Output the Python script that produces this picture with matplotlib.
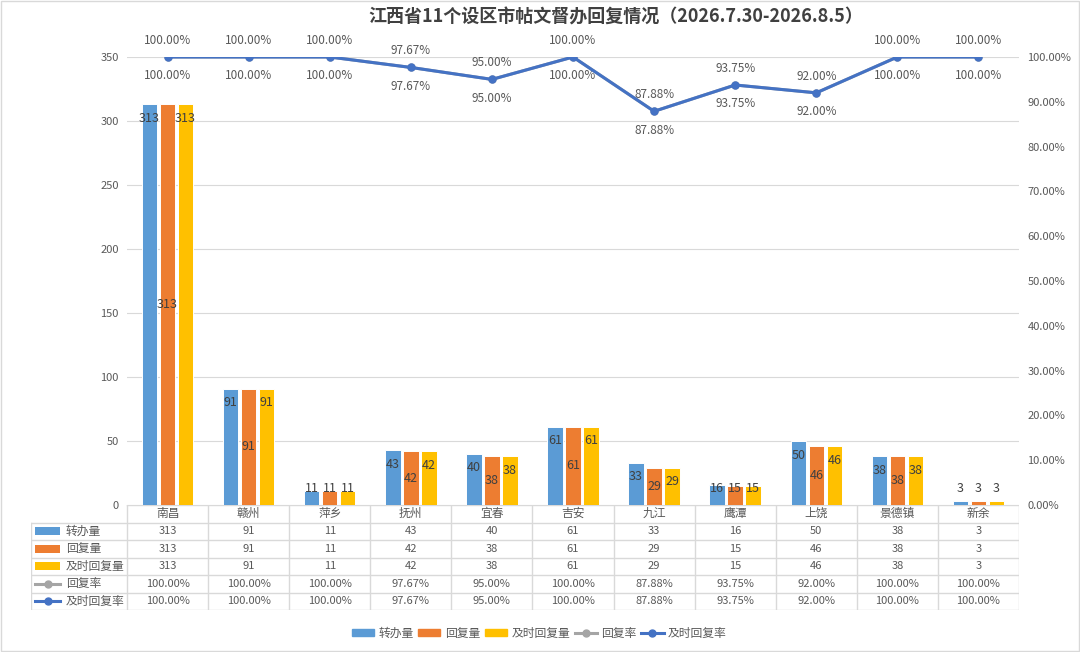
"""江西省11个设区市帖文督办回复情况 combo chart with data table."""
import matplotlib

matplotlib.use("Agg")
import matplotlib.pyplot as plt
from matplotlib.lines import Line2D
from matplotlib.patches import Patch, Rectangle
from matplotlib.ticker import FuncFormatter, MultipleLocator

plt.rcParams["font.family"] = ["Noto Sans CJK SC", "DejaVu Sans"]

TITLE = "江西省11个设区市帖文督办回复情况（2026.7.30-2026.8.5）"
CITIES = ["南昌", "赣州", "萍乡", "抚州", "宜春", "吉安", "九江", "鹰潭", "上饶", "景德镇", "新余"]
ASSIGNED = [313, 91, 11, 43, 40, 61, 33, 16, 50, 38, 3]
REPLIED = [313, 91, 11, 42, 38, 61, 29, 15, 46, 38, 3]
TIMELY = [313, 91, 11, 42, 38, 61, 29, 15, 46, 38, 3]
REPLY_RATE = [1.0, 1.0, 1.0, 0.9767, 0.95, 1.0, 0.8788, 0.9375, 0.92, 1.0, 1.0]
TIMELY_RATE = [1.0, 1.0, 1.0, 0.9767, 0.95, 1.0, 0.8788, 0.9375, 0.92, 1.0, 1.0]
SERIES_NAMES = ["转办量", "回复量", "及时回复量", "回复率", "及时回复率"]

BLUE = "#5B9BD5"
ORANGE = "#ED7D31"
GOLD = "#FFC000"
GRAY = "#A5A5A5"
LINE_BLUE = "#4472C4"
TEXT = "#595959"
LABEL = "#404040"
GRID = "#D9D9D9"

W, H = 1080, 652
fig = plt.figure(figsize=(W / 100, H / 100), dpi=100)

# plot area in pixels
PL, PR, PT, PB = 127, 1019, 57, 505
ax = fig.add_axes([PL / W, 1 - PB / H, (PR - PL) / W, (PB - PT) / H])
ax2 = ax.twinx()

n = len(CITIES)
xs = list(range(n))
step = 0.222
bw = 0.19

bar_series = [(ASSIGNED, BLUE, -step), (REPLIED, ORANGE, 0.0), (TIMELY, GOLD, step)]
for vals, color, off in bar_series:
    ax.bar([x + off for x in xs], vals, width=bw, color=color,
           edgecolor="white", linewidth=0.7, zorder=2)

# bar labels: blue / gold at inside end, orange centred, kept off the floor
for vals, color, off in bar_series:
    for x, v in zip(xs, vals):
        if color == ORANGE:
            y = max(v / 2, 12.5)
        else:
            y = max(v - 11, 12.5)
        ax.text(x + off, y, str(v), ha="center", va="center",
                fontsize=9, color=LABEL, zorder=3)

ax.set_xlim(-0.5, n - 0.5)
ax.set_ylim(0, 350)
ax.yaxis.set_major_locator(MultipleLocator(50))
ax.grid(axis="y", color=GRID, linewidth=0.8, zorder=0)
ax.set_axisbelow(True)
ax.set_xticks([])
ax.tick_params(axis="y", length=0, pad=6, labelsize=8, labelcolor=TEXT)
for sp in ax.spines.values():
    sp.set_visible(False)

# rate lines on the secondary axis
ax2.plot(xs, REPLY_RATE, color=GRAY, linewidth=2.2, marker="o", markersize=5, zorder=3)
ax2.plot(xs, TIMELY_RATE, color=LINE_BLUE, linewidth=2.2, marker="o", markersize=5, zorder=4)
for x, r in zip(xs, REPLY_RATE):
    ax2.annotate(f"{r:.2%}", (x, r), xytext=(0, 12), textcoords="offset points",
                 ha="center", va="center", fontsize=8.5, color=TEXT)
for x, r in zip(xs, TIMELY_RATE):
    ax2.annotate(f"{r:.2%}", (x, r), xytext=(0, -13.5), textcoords="offset points",
                 ha="center", va="center", fontsize=8.5, color=TEXT)
ax2.set_ylim(0, 1)
ax2.yaxis.set_major_locator(MultipleLocator(0.1))
ax2.yaxis.set_major_formatter(FuncFormatter(lambda v, _: f"{v:.2%}"))
ax2.tick_params(axis="y", length=0, pad=6, labelsize=8, labelcolor=TEXT)
for sp in ax2.spines.values():
    sp.set_visible(False)

# data table below the plot
cat_px = (PR - PL) / n
TL = 31
lab_w = (PL - TL) / cat_px
TBOT = 610
tax = fig.add_axes([TL / W, 1 - TBOT / H, (PR - TL) / W, (TBOT - PB) / H])
tax.set_xlim(-0.5 - lab_w, n - 0.5)
tax.set_ylim(6, 0)
tax.axis("off")
x0 = -0.5 - lab_w
tax.plot([-0.5, n - 0.5], [0, 0], color=GRID, lw=1)
for r in range(1, 7):
    tax.plot([x0, n - 0.5], [r, r], color=GRID, lw=1)
tax.plot([x0, x0], [1, 6], color=GRID, lw=1)
for k in range(n + 1):
    tax.plot([k - 0.5, k - 0.5], [0, 6], color=GRID, lw=1)

for x, c in zip(xs, CITIES):
    tax.text(x, 0.5, c, ha="center", va="center", fontsize=8.5, color=TEXT)

rows = [ASSIGNED, REPLIED, TIMELY, REPLY_RATE, TIMELY_RATE]
key_colors = [BLUE, ORANGE, GOLD, GRAY, LINE_BLUE]
kx0 = x0 + 4 / cat_px
kx1 = x0 + 29 / cat_px
for i, (name, vals, kc) in enumerate(zip(SERIES_NAMES, rows, key_colors)):
    yc = i + 1.5
    if i < 3:
        tax.add_patch(Rectangle((kx0, yc - 0.23), kx1 - kx0, 0.46, color=kc, lw=0))
        txt = [str(v) for v in vals]
    else:
        tax.plot([kx0, kx1], [yc, yc], color=kc, lw=2.2)
        tax.plot([(kx0 + kx1) / 2], [yc], "o", color=kc, ms=5)
        txt = [f"{v:.2%}" for v in vals]
    tax.text(x0 + 35 / cat_px, yc, name, ha="left", va="center", fontsize=8.5, color=TEXT)
    for x, t in zip(xs, txt):
        tax.text(x, yc, t, ha="center", va="center", fontsize=8, color=TEXT)

fig.text(616 / W, 1 - 17 / H, TITLE, ha="center", va="center",
         fontsize=13, fontweight="bold", color=LABEL)

handles = [
    Patch(color=BLUE), Patch(color=ORANGE), Patch(color=GOLD),
    Line2D([], [], color=GRAY, lw=2.2, marker="o", ms=5),
    Line2D([], [], color=LINE_BLUE, lw=2.2, marker="o", ms=5),
]
fig.legend(handles, SERIES_NAMES, loc="center", bbox_to_anchor=(539 / W, 1 - 633 / H),
           ncol=5, frameon=False, fontsize=8.5, labelcolor=TEXT, handlelength=1.9,
           handleheight=0.6, handletextpad=0.35, columnspacing=0.4)

fig.patches.append(Rectangle((0.001, 0.0015), 0.998, 0.997, transform=fig.transFigure,
                             fill=False, edgecolor=GRID, lw=1))

fig.savefig("out.png", dpi=100)
